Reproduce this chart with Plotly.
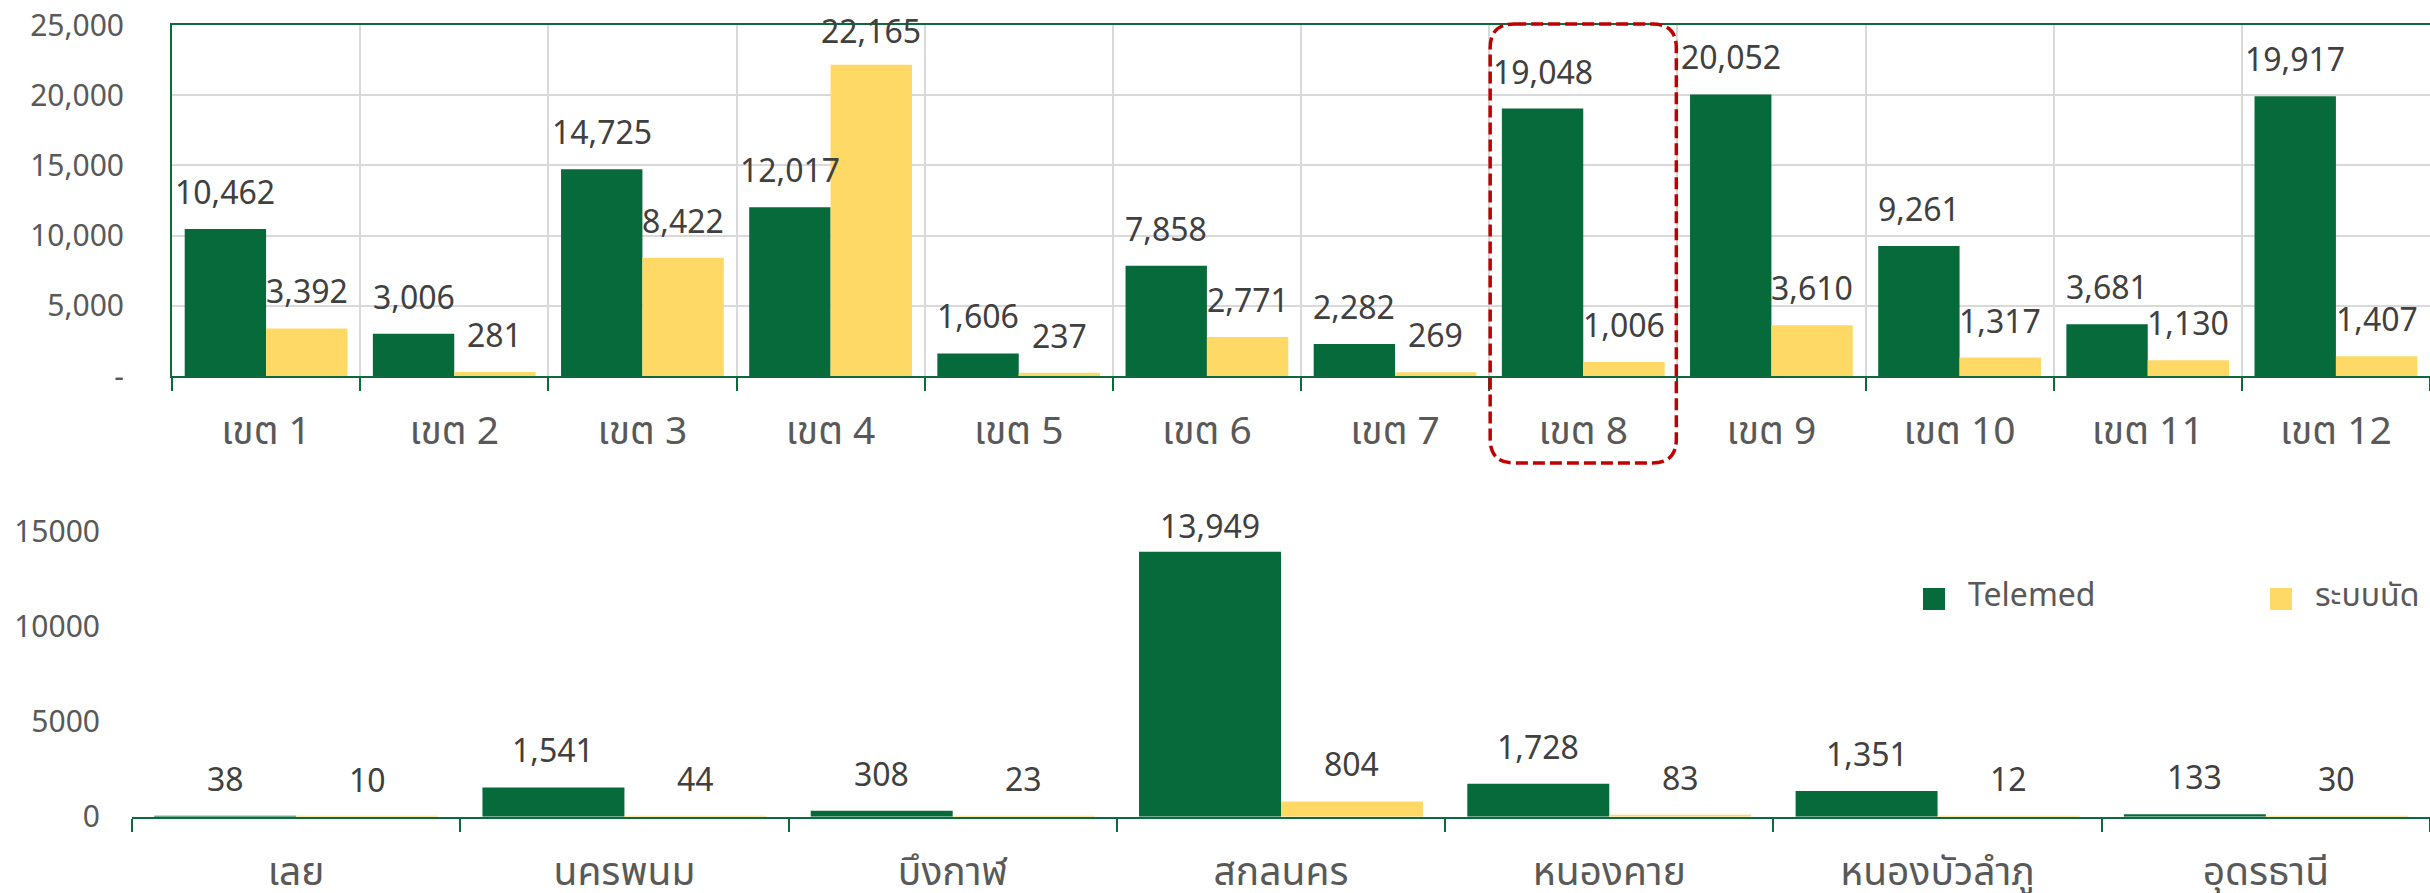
import plotly.graph_objects as go

# ---------------- data ----------------
regions = ["เขต 1", "เขต 2", "เขต 3", "เขต 4", "เขต 5", "เขต 6",
           "เขต 7", "เขต 8", "เขต 9", "เขต 10", "เขต 11", "เขต 12"]
telemed_region = [10462, 3006, 14725, 12017, 1606, 7858, 2282, 19048, 20052, 9261, 3681, 19917]
appoint_region = [3392, 281, 8422, 22165, 237, 2771, 269, 1006, 3610, 1317, 1130, 1407]

provinces = ["เลย", "นครพนม", "บึงกาฬ", "สกลนคร", "หนองคาย", "หนองบัวลำภู", "อุดรธานี"]
telemed_prov = [38, 1541, 308, 13949, 1728, 1351, 133]
appoint_prov = [10, 44, 23, 804, 83, 12, 30]

series_names = ["Telemed", "ระบบนัด"]

top_tickvals = [0, 5000, 10000, 15000, 20000, 25000]
top_ticktext = ["-", "5,000", "10,000", "15,000", "20,000", "25,000"]
bot_tickvals = [0, 5000, 10000, 15000]
bot_ticktext = ["0", "5000", "10000", "15000"]

highlight_region = "เขต 8"

# ---------------- style ----------------
W, H = 2430, 893
GREEN = "#076A3B"
YELLOW = "#FFD966"
AXIS_GREEN = "#0B6B3A"
GRID = "#D9D9D9"
TICK_TXT = "#595959"
LABEL_TXT = "#404040"
FONT = "Noto Sans Thai, Noto Sans, Open Sans, sans-serif"
BARGAP = 0.135

# pixel layout
top_left, top_top, top_bottom = 172, 25, 376
bot_left, bot_top, bot_bottom = 132, 531.7, 816.7
top_max, bot_max = 25000, 15000


def px(x):
    return x / W


def py(y):
    return 1 - y / H


fig = go.Figure()
colors = [GREEN, YELLOW]
for name, vals, c in zip(series_names, [telemed_region, appoint_region], colors):
    fig.add_trace(go.Bar(x=regions, y=vals, name=name, marker=dict(color=c, line=dict(width=0)),
                         xaxis="x", yaxis="y", showlegend=False, hoverinfo="x+y+name"))
for name, vals, c in zip(series_names, [telemed_prov, appoint_prov], colors):
    fig.add_trace(go.Bar(x=provinces, y=vals, name=name, marker=dict(color=c, line=dict(width=0)),
                         xaxis="x2", yaxis="y2", showlegend=False, hoverinfo="x+y+name"))

annotations = []


def add_labels(cats, series, xref, yref, cat_px, ymax, plot_h):
    half = cat_px * (1 - BARGAP) / 4
    for j, vals in enumerate(series):
        sh = -half if j == 0 else half
        for c, v in zip(cats, vals):
            bar_top_px = v / ymax * plot_h
            yshift = 9
            # keep label inside plot area (Excel-like clamping)
            if bar_top_px + yshift + 42 > plot_h + 8:
                yshift = max(-2, plot_h + 8 - 42 - bar_top_px)
            annotations.append(dict(x=c, y=v, xref=xref, yref=yref, text=f"{v:,}",
                                    showarrow=False, xanchor="center", yanchor="bottom",
                                    xshift=sh, yshift=yshift,
                                    font=dict(size=32, color=LABEL_TXT, family=FONT)))


add_labels(regions, [telemed_region, appoint_region], "x", "y",
           (W - top_left) / len(regions), top_max, top_bottom - top_top)
add_labels(provinces, [telemed_prov, appoint_prov], "x2", "y2",
           (W - bot_left) / len(provinces), bot_max, bot_bottom - bot_top)

# manual legend
shapes = []
leg_y0, leg_y1 = 588, 610
for name, c, x0, tx in zip(series_names, colors, [1923, 2270], [1966, 2313]):
    shapes.append(dict(type="rect", xref="paper", yref="paper", x0=px(x0), x1=px(x0 + 22),
                       y0=py(leg_y1), y1=py(leg_y0), fillcolor=c, line=dict(width=0)))
    annotations.append(dict(x=px(tx), y=py((leg_y0 + leg_y1) / 2 - 3), xref="paper", yref="paper",
                            text=name, showarrow=False, xanchor="left", yanchor="middle",
                            font=dict(size=32, color=TICK_TXT, family=FONT)))

# highlight dashed rounded box around region 8
idx = regions.index(highlight_region)
cat_w = (W - top_left) / len(regions)
L = top_left + idx * cat_w + 1
R = top_left + (idx + 1) * cat_w - 1
T, B, r = 24, 463, 24
pts = [
    f"M{px(L + r)},{py(T)}", f"L{px(R - r)},{py(T)}", f"Q{px(R)},{py(T)} {px(R)},{py(T + r)}",
    f"L{px(R)},{py(B - r)}", f"Q{px(R)},{py(B)} {px(R - r)},{py(B)}",
    f"L{px(L + r)},{py(B)}", f"Q{px(L)},{py(B)} {px(L)},{py(B - r)}",
    f"L{px(L)},{py(T + r)}", f"Q{px(L)},{py(T)} {px(L + r)},{py(T)}", "Z",
]
shapes.append(dict(type="path", xref="paper", yref="paper", path=" ".join(pts),
                   line=dict(color="#C00000", width=3.5, dash="12px,5px"), layer="above"))

fig.update_layout(
    width=W, height=H, template="none",
    margin=dict(l=0, r=0, t=0, b=0, autoexpand=False),
    paper_bgcolor="white", plot_bgcolor="white",
    barmode="group", bargap=BARGAP, bargroupgap=0,
    font=dict(family=FONT, color=TICK_TXT),
    xaxis=dict(domain=[px(top_left), 1], anchor="y", type="category",
               showline=True, linecolor=AXIS_GREEN, linewidth=2, mirror=True,
               showgrid=True, gridcolor=GRID, gridwidth=2, tickson="boundaries",
               ticks="outside", ticklen=13, tickwidth=2, tickcolor=AXIS_GREEN,
               tickfont=dict(size=39, color=TICK_TXT, family=FONT), ticklabelstandoff=19,
               automargin=False, zeroline=False),
    yaxis=dict(domain=[py(top_bottom), py(top_top)], anchor="x", range=[0, top_max],
               showline=True, linecolor=AXIS_GREEN, linewidth=2,
               showgrid=True, gridcolor=GRID, gridwidth=2, zeroline=False,
               tickvals=top_tickvals, ticktext=top_ticktext, ticks="",
               tickfont=dict(size=30, color=TICK_TXT, family=FONT), ticklabelstandoff=40,
               automargin=False),
    xaxis2=dict(domain=[px(bot_left), 1], anchor="y2", type="category",
                showline=True, linecolor=AXIS_GREEN, linewidth=2, showgrid=False,
                tickson="boundaries", ticks="outside", ticklen=13, tickwidth=2,
                tickcolor=AXIS_GREEN, tickfont=dict(size=39, color=TICK_TXT, family=FONT),
                ticklabelstandoff=19, automargin=False, zeroline=False),
    yaxis2=dict(domain=[py(bot_bottom), py(bot_top)], anchor="x2", range=[0, bot_max],
                showline=False, showgrid=False, zeroline=False,
                tickvals=bot_tickvals, ticktext=bot_ticktext, ticks="",
                tickfont=dict(size=30, color=TICK_TXT, family=FONT), ticklabelstandoff=31,
                automargin=False),
    annotations=annotations,
    shapes=shapes,
)

fig.write_html("out.html", config={"displayModeBar": False},
               post_script="document.body.style.margin='0';document.body.style.overflow='hidden';")
